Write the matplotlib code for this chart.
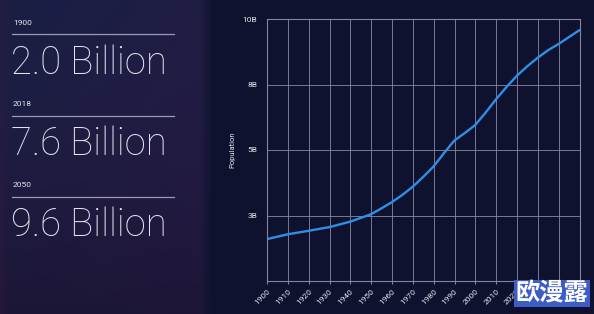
import matplotlib
matplotlib.use("Agg")
import matplotlib.pyplot as plt
import numpy as np

# ---- data ----
YEARS = [1900, 1910, 1920, 1930, 1940, 1950, 1955, 1960, 1965, 1970, 1975,
         1980, 1985, 1990, 1995, 2000, 2005, 2010, 2015, 2020, 2025, 2030,
         2035, 2040, 2045, 2050]
POP_B = [1.92, 2.14, 2.30, 2.47, 2.72, 3.04, 3.22, 3.41, 3.63, 3.88, 4.18,
         4.50, 4.91, 5.44, 5.78, 6.15, 6.72, 7.33, 7.89, 8.27, 8.56, 8.82,
         9.05, 9.24, 9.45, 9.66]

# y axis is drawn with evenly spaced ticks that are not evenly spaced in value
Y_TICKS = [3, 5, 8, 10]
Y_TICK_LABELS = ["3B", "5B", "8B", "10B"]
Y_KNOTS = [0, 3, 5, 8, 10]
X_TICKS = list(range(1900, 2051, 10))

STATS = [("1900", "2.0 Billion"), ("2018", "7.6 Billion"), ("2050", "9.6 Billion")]
WATERMARK = "欧漫露"

W, H = 594, 314
TEXT_C = "#e4e4ee"
GRID_C = "#84849f"
LINE_C = "#2f8ee6"

plt.rcParams["font.family"] = ["Roboto", "DejaVu Sans"]

fig = plt.figure(figsize=(W / 100, H / 100), dpi=100)

# background gradient: navy/purple text panel on the left, dark navy chart panel
bg = fig.add_axes([0, 0, 1, 1], zorder=-10)
xx, yy = np.meshgrid(np.linspace(0, 1, W), np.linspace(0, 1, H))
left_c = np.array([0x1b, 0x1f, 0x44]) / 255
purp_c = np.array([0x28, 0x1a, 0x46]) / 255
bot_c = np.array([0x17, 0x13, 0x2c]) / 255
right_c = np.array([0x0f, 0x12, 0x2f]) / 255
t = np.clip(xx * 1.4 + yy * 0.6 - 0.1, 0, 1)[..., None]
img = left_c * (1 - t) + purp_c * t
img = img * (1 - (yy[..., None] ** 2) * 0.6) + bot_c * (yy[..., None] ** 2) * 0.6
edge = np.clip((xx * W - 200) / 12, 0, 1)[..., None]
img = img * (1 - edge) + right_c * edge
red = np.clip(1 - xx * W / 10, 0, 1)[..., None] * 0.25
img = img * (1 - red) + np.array([0x40, 0x18, 0x40]) / 255 * red
bg.imshow(img, aspect="auto", extent=[0, 1, 0, 1])
bg.axis("off")

# left text panel
rows = [(23, 34, 74), (104, 115.5, 155), (185, 196.5, 236)]
for (yr, big), (y_small, y_rule, y_big) in zip(STATS, rows):
    fig.text(13 / W, 1 - y_small / H, yr, fontsize=6, color=TEXT_C, va="center")
    fig.add_artist(plt.Line2D([12 / W, 174 / W], [1 - y_rule / H] * 2,
                              color="#9a9ab4", lw=0.9, transform=fig.transFigure))
    fig.text(11 / W, 1 - y_big / H, big, fontsize=27.5, color=TEXT_C,
             fontweight=100, va="baseline")

# chart
ax = fig.add_axes([267 / W, 1 - 281 / H, 312.5 / W, 262 / H])
ax.patch.set_alpha(0)
fwd = lambda v: np.interp(v, Y_KNOTS, range(len(Y_KNOTS)))
inv = lambda p: np.interp(p, range(len(Y_KNOTS)), Y_KNOTS)
ax.set_yscale("function", functions=(fwd, inv))
ax.plot(YEARS, POP_B, color=LINE_C, lw=1.7, solid_capstyle="round",
        solid_joinstyle="round")
ax.set_xlim(1900, 2050)
ax.set_ylim(0, 10)
ax.set_yticks(Y_TICKS)
ax.set_yticklabels(Y_TICK_LABELS)
ax.yaxis.set_minor_locator(matplotlib.ticker.NullLocator())
ax.set_xticks(X_TICKS)
ax.set_xticklabels([str(x) for x in X_TICKS], rotation=45, ha="right",
                   rotation_mode="anchor")
ax.tick_params(axis="y", length=0, pad=7, labelsize=6, labelcolor=TEXT_C)
ax.tick_params(axis="x", length=2, color=GRID_C, pad=3, labelsize=6,
               labelcolor=TEXT_C)
ax.grid(True, color=GRID_C, lw=0.7, alpha=0.9)
for s in ax.spines.values():
    s.set_color(GRID_C)
    s.set_linewidth(0.8)
ax.set_ylabel("Population", fontsize=5.5, color=TEXT_C, labelpad=5)

# site watermark
fig.text(552 / W, 1 - 293.5 / H, WATERMARK, fontsize=17.5, fontweight="bold",
         color="white", ha="center", va="center",
         family=["Noto Sans CJK SC", "DejaVu Sans"],
         bbox=dict(boxstyle="square,pad=0.05", fc="#3d5cc4", ec="none"))

fig.savefig("out.png", dpi=100)
